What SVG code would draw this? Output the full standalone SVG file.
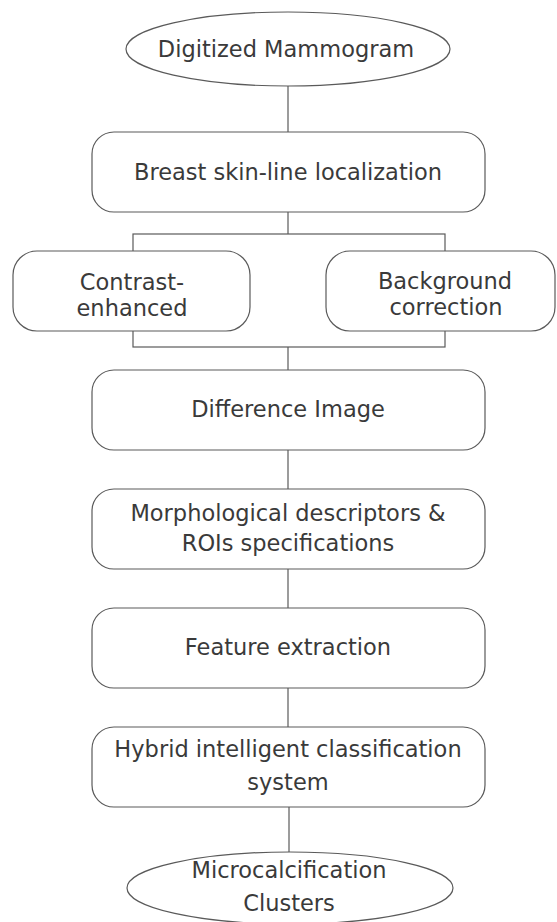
<svg xmlns="http://www.w3.org/2000/svg" width="557" height="922" viewBox="0 0 557 922">
<style>
.shape{fill:#ffffff;stroke:#5a5a5a;stroke-width:1.2}
.conn{fill:none;stroke:#5a5a5a;stroke-width:1.2}
text{font-family:"DejaVu Sans","Verdana",sans-serif;font-size:22.5px;fill:#3a3a3a;text-anchor:middle}
</style>
<rect width="557" height="922" fill="#ffffff"/>
<g id="connectors">
<line class="conn" x1="288" y1="86" x2="288" y2="132"/>
<line class="conn" x1="288" y1="212" x2="288" y2="234"/>
<rect class="conn" x="133" y="234" width="312" height="113"/>
<line class="conn" x1="288" y1="347" x2="288" y2="370"/>
<line class="conn" x1="288" y1="450" x2="288" y2="489"/>
<line class="conn" x1="288" y1="569" x2="288" y2="608"/>
<line class="conn" x1="288" y1="688" x2="288" y2="727"/>
<line class="conn" x1="289" y1="807" x2="289" y2="852"/>
</g>
<g id="n-digitized">
<ellipse class="shape" cx="288" cy="49" rx="162" ry="37"/>
<text x="286" y="57">Digitized Mammogram</text>
</g>
<g id="n-skinline">
<rect class="shape" x="92" y="132" width="393" height="80" rx="22"/>
<text x="288" y="180">Breast skin-line localization</text>
</g>
<g id="n-contrast">
<rect class="shape" x="13" y="251" width="237" height="80" rx="24"/>
<text x="132" y="290">Contrast-</text>
<text x="132" y="316">enhanced</text>
</g>
<g id="n-background">
<rect class="shape" x="326" y="251" width="229" height="80" rx="24"/>
<text x="445" y="289">Background</text>
<text x="446" y="315">correction</text>
</g>
<g id="n-difference">
<rect class="shape" x="92" y="370" width="393" height="80" rx="22"/>
<text x="288" y="417">Difference Image</text>
</g>
<g id="n-morph">
<rect class="shape" x="92" y="489" width="393" height="80" rx="22"/>
<text x="288" y="521">Morphological descriptors &amp;</text>
<text x="288" y="551">ROIs specifications</text>
</g>
<g id="n-feature">
<rect class="shape" x="92" y="608" width="393" height="80" rx="22"/>
<text x="288" y="655">Feature extraction</text>
</g>
<g id="n-hybrid">
<rect class="shape" x="92" y="727" width="393" height="80" rx="22"/>
<text x="288" y="757">Hybrid intelligent classification</text>
<text x="288" y="790">system</text>
</g>
<g id="n-clusters">
<ellipse class="shape" cx="290" cy="888" rx="163" ry="36"/>
<text x="289" y="878">Microcalcification</text>
<text x="289" y="911">Clusters</text>
</g>
</svg>
